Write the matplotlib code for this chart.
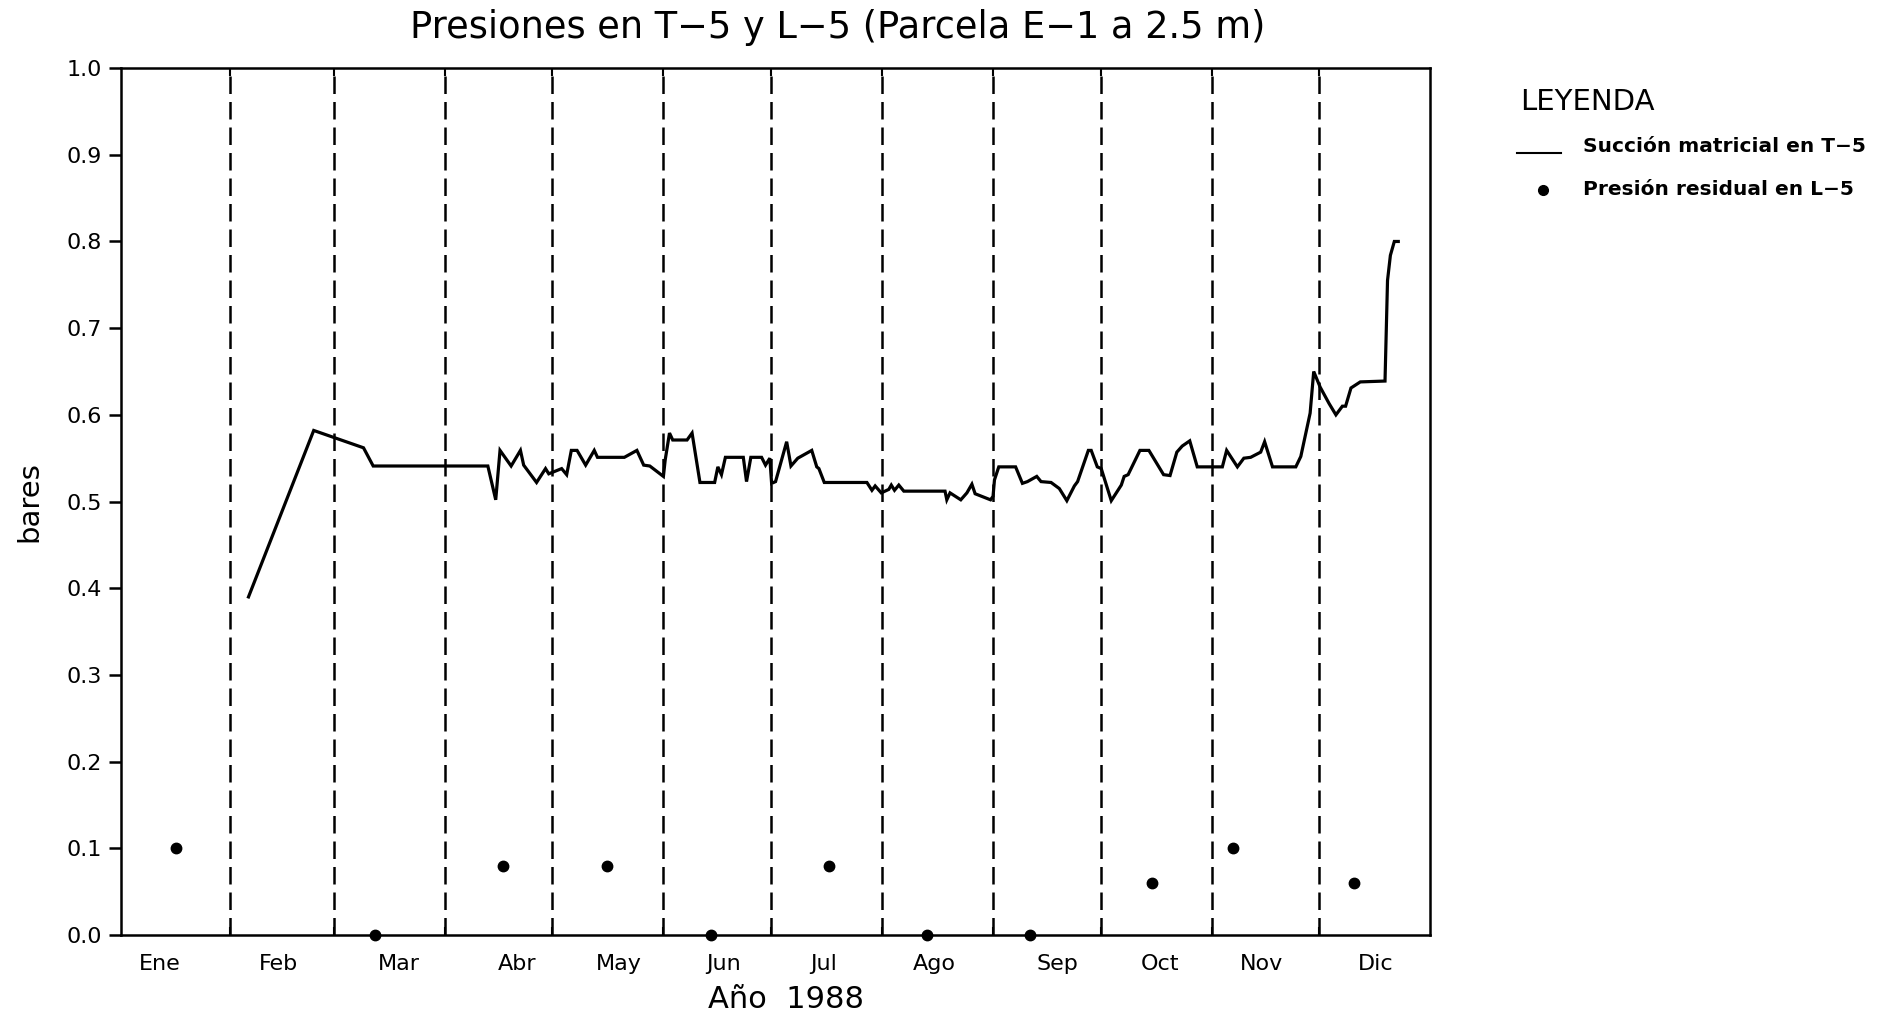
import matplotlib
matplotlib.use('Agg')
import matplotlib.pyplot as plt
from matplotlib.lines import Line2D

# meses (etiquetas y posicion en dias del año 1988)
meses = ['Ene', 'Feb', 'Mar', 'Abr', 'May', 'Jun', 'Jul', 'Ago', 'Sep', 'Oct', 'Nov', 'Dic']
pos_meses = [11.4, 44.5, 78.2, 111.3, 139.6, 168.7, 196.6, 227.7, 262.1, 290.5, 318.8, 350.9]
inicio_mes = [31, 60, 91, 121, 152, 182, 213, 244, 274, 305, 335]

# succion matricial en T-5 (bares)
dias_t5 = [36.2, 54.4, 68.3, 71.0, 103.0, 105.2, 106.4, 109.5, 112.1, 113.0,
           116.6, 119.1, 120.0, 123.6, 125.0, 126.3, 127.9, 130.3, 132.7, 133.6,
           141.1, 144.6, 146.5, 148.2, 152.0, 152.5, 153.7, 154.6, 158.6, 160.0,
           162.2, 166.3, 167.2, 168.2, 169.3, 174.3, 175.2, 176.4, 179.4, 180.5,
           181.7, 182.2, 183.3, 186.4, 187.6, 189.5, 193.4, 194.8, 195.4, 196.9,
           208.8, 210.2, 211.1, 212.8, 214.9, 215.6, 216.5, 217.7, 219.1, 230.6,
           231.1, 232.0, 235.0, 236.7, 238.1, 239.0, 243.3, 244.0, 244.4, 245.6,
           250.3, 252.2, 253.6, 256.2, 257.4, 260.2, 262.5, 264.6, 266.7, 267.6,
           270.6, 271.4, 273.1, 274.2, 277.0, 279.8, 280.6, 281.7, 285.0, 287.5,
           291.6, 293.4, 295.3, 296.8, 298.9, 301.0, 308.0, 309.2, 312.2, 314.0,
           315.9, 318.7, 319.8, 322.0, 328.5, 329.9, 332.5, 333.5, 335.3, 337.8,
           339.7, 341.5, 342.4, 343.9, 346.5, 353.4, 354.1, 354.9, 356.0, 357.1]
succion_t5 = [0.390, 0.582, 0.562, 0.541, 0.541, 0.502, 0.559, 0.541, 0.559, 0.542,
              0.522, 0.538, 0.532, 0.538, 0.531, 0.559, 0.559, 0.542, 0.559, 0.551,
              0.551, 0.559, 0.542, 0.541, 0.529, 0.548, 0.579, 0.571, 0.571, 0.579,
              0.522, 0.522, 0.540, 0.531, 0.551, 0.551, 0.523, 0.551, 0.551, 0.542,
              0.550, 0.521, 0.523, 0.569, 0.541, 0.550, 0.559, 0.540, 0.538, 0.522,
              0.522, 0.513, 0.518, 0.510, 0.514, 0.519, 0.513, 0.519, 0.512, 0.512,
              0.502, 0.510, 0.502, 0.510, 0.520, 0.509, 0.502, 0.506, 0.525, 0.540,
              0.540, 0.521, 0.523, 0.529, 0.523, 0.522, 0.515, 0.501, 0.518, 0.523,
              0.559, 0.559, 0.540, 0.538, 0.501, 0.519, 0.529, 0.531, 0.559, 0.559,
              0.531, 0.530, 0.557, 0.564, 0.570, 0.540, 0.540, 0.559, 0.540, 0.550,
              0.551, 0.557, 0.569, 0.540, 0.540, 0.552, 0.602, 0.650, 0.632, 0.613,
              0.600, 0.610, 0.610, 0.631, 0.638, 0.639, 0.755, 0.784, 0.800, 0.800]

# presion residual en L-5 (bares)
dias_l5 = [16.1, 71.5, 107.3, 136.3, 165.3, 198.3, 225.7, 254.2, 288.5, 311.1, 344.8]
presion_l5 = [0.10, 0.00, 0.08, 0.08, 0.00, 0.08, 0.00, 0.00, 0.06, 0.10, 0.06]

yticks = [i / 10 for i in range(11)]

plt.rcParams['font.family'] = ['DejaVu Sans']

fig = plt.figure(figsize=(18.95, 10.16), dpi=100)
ax = fig.add_axes([0.0639, 0.0797, 0.6908, 0.8533])

for d in inicio_mes:
    ax.axvline(d, color='k', lw=1.8, ls=(0, (7, 3.2)))

ax.plot(dias_t5, succion_t5, color='k', lw=2.3, solid_joinstyle='miter')
ax.plot(dias_l5, presion_l5, 'ko', ms=7.5, clip_on=False, zorder=5)

ax.set_xlim(0.64, 366.0)
ax.set_ylim(0, 1.0)

ax.set_xticks(pos_meses)
ax.set_xticklabels(meses, fontsize=16)
ax.set_xticks(inicio_mes, minor=True)
ax.tick_params(axis='x', which='major', length=0, pad=14)
ax.tick_params(axis='x', which='minor', direction='in', length=6, width=1.5,
               top=True, bottom=True)

ax.set_yticks(yticks)
ax.set_yticklabels(['%.1f' % v for v in yticks], fontsize=16)
ax.tick_params(axis='y', length=9, width=1.8, pad=5)

for s in ax.spines.values():
    s.set_linewidth(1.8)

ax.set_xlabel('Año  1988', fontsize=22)
ax.xaxis.set_label_coords(0.508, -0.058)
ax.set_ylabel('bares', fontsize=21)
ax.yaxis.set_label_coords(-0.059, 0.5)

fig.text(0.442, 0.973, 'Presiones en T−5 y L−5 (Parcela E−1 a 2.5 m)',
         fontsize=26.5, ha='center', va='center')

# leyenda
fig.text(0.802, 0.900, 'LEYENDA', fontsize=21, va='center')
fig.add_artist(Line2D([0.8005, 0.8237], [0.849, 0.849], color='k', lw=1.5))
fig.text(0.8354, 0.856, 'Succión matricial en T−5', fontsize=14.5,
         fontweight='bold', va='center')
fig.add_artist(Line2D([0.8142], [0.813], marker='o', color='k', ms=7))
fig.text(0.8354, 0.813, 'Presión residual en L−5', fontsize=14.5,
         fontweight='bold', va='center')

fig.savefig('out.png', dpi=100)
